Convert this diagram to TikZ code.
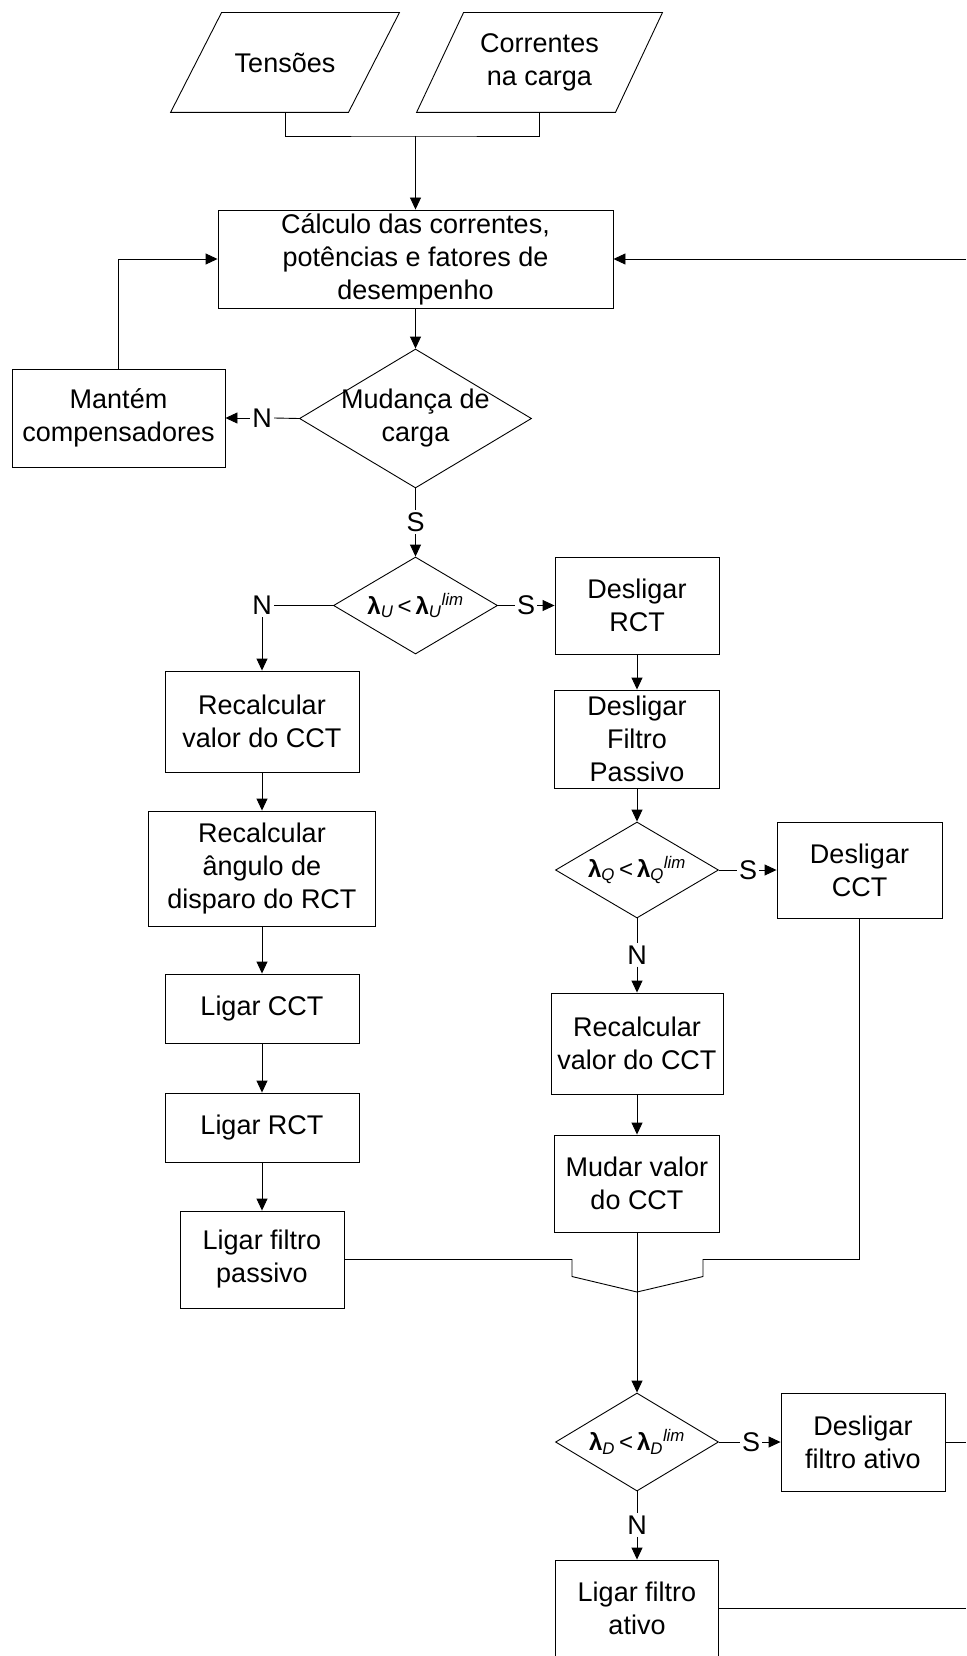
\documentclass[tikz,border=0pt]{standalone}
\usepackage{fontspec}
\setmainfont{Liberation Sans}
\usetikzlibrary{arrows.meta,shapes.geometric}
\tikzset{
  blk/.style = {draw,rectangle,align=center,inner sep=0pt,font=\fontsize{27}{33}\selectfont},
  dec/.style = {draw,diamond,inner sep=0pt},
  dectxt/.style = {inner sep=0pt,font=\fontsize{24}{28}\selectfont},
  inp/.style = {rectangle,align=center,inner sep=0pt,minimum height=99pt,font=\fontsize{27}{33}\selectfont},
  lbl/.style = {inner sep=2pt,font=\fontsize{27}{33}\selectfont}
}
\newcommand{\lamlim}[1]{\textbf{λ}\textsubscript{\textit{#1}}\,<\,\textbf{λ}\textsubscript{\textit{#1}}\textsuperscript{\textit{lim}}}
\newcommand{\slantbox}[2]{% #1 node, #2 half slant
  \draw ([xshift=-#2]#1.south west) -- ([xshift=#2]#1.north west)
     -- ([xshift=#2]#1.north east) -- ([xshift=-#2]#1.south east) -- cycle;}

\begin{document}
\begin{tikzpicture}[x=1pt,y=-1pt,>={Triangle[length=12pt,width=11pt]},line width=0.9pt]
\useasboundingbox (0,0) rectangle (966,1656);

% entradas
\node[inp,minimum width=177pt] (tens) at (285,62.5)   {Tensões};
\node[inp,minimum width=198pt] (corr) at (539.5,62.5) {Correntes\\na carga};
\slantbox{tens}{25.5pt}
\slantbox{corr}{23.5pt}
\coordinate (join) at (415.5,136);

\node[blk,minimum width=395pt,minimum height=98pt] (calc) at (415.5,259) {Cálculo das correntes,\\potências e fatores de\\desempenho};
\node[blk,minimum width=213pt,minimum height=98pt] (mant) at (118.5,418) {Mantém\\compensadores};
\node[dec,minimum width=232pt,minimum height=139pt] (mud) at (415.5,418.5) {};
\node[blk,draw=none] (mudtxt) at (mud) {Mudança de\\carga};

% teste lambda_U
\node[dec,minimum width=164pt,minimum height=97pt] (lamU) at (415.5,605.5) {};
\node[dectxt] (lamUtxt) at (lamU) {\lamlim{U}};
\node[blk,minimum width=164pt,minimum height=97pt] (desRCT) at (637,605.5) {Desligar\\RCT};

% ramo esquerdo
\node[blk,minimum width=194pt,minimum height=101pt] (recL)   at (262,721.5)  {Recalcular\\valor do CCT};
\node[blk,minimum width=227pt,minimum height=115pt] (angL)   at (262,868.5)  {Recalcular\\ângulo de\\disparo do RCT};
\node[blk,minimum width=194pt,minimum height=69pt]  (ligCCT) at (262,1008.5) {Ligar CCT};
\node[blk,minimum width=194pt,minimum height=69pt]  (ligRCT) at (262,1127.5) {Ligar RCT};
\node[blk,minimum width=164pt,minimum height=97pt]  (ligFP)  at (262,1259.5) {Ligar filtro\\passivo};

% ramo direito
\node[blk,minimum width=165pt,minimum height=98pt]  (desFP)  at (637,739)    {Desligar\\Filtro\\Passivo};
\node[dec,minimum width=163pt,minimum height=96pt]  (lamQ)   at (637,870)    {};
\node[dectxt] (lamQtxt) at (lamQ) {\lamlim{Q}};
\node[blk,minimum width=165pt,minimum height=96pt]  (desCCT) at (859.5,870)  {Desligar\\CCT};
\node[blk,minimum width=172pt,minimum height=101pt] (recR)   at (637,1043.5) {Recalcular\\valor do CCT};
\node[blk,minimum width=165pt,minimum height=97pt]  (mudCCT) at (637,1183.5) {Mudar valor\\do CCT};

% teste lambda_D
\node[dec,minimum width=163pt,minimum height=98pt]  (lamD)   at (637,1442)   {};
\node[dectxt] (lamDtxt) at (lamD) {\lamlim{D}};
\node[blk,minimum width=164pt,minimum height=98pt]  (desFA)  at (863,1442)   {Desligar\\filtro ativo};
\node[blk,minimum width=163pt,minimum height=96pt]  (ligFA)  at (637,1608)   {Ligar filtro\\ativo};

% rotulos S / N
\node[lbl] (nMud) at (262,418)   {N};
\node[lbl] (sMud) at (415.5,522) {S};
\node[lbl] (nU)   at (262,605.5) {N};
\node[lbl] (sU)   at (526,605.5) {S};
\node[lbl] (sQ)   at (748,870)   {S};
\node[lbl] (nQ)   at (637,955)   {N};
\node[lbl] (sD)   at (751,1442)  {S};
\node[lbl] (nD)   at (637,1525)  {N};

% pontos de juncao e retorno
\coordinate (mgL) at (572,1259.5);
\coordinate (mgR) at (703,1259.5);
\coordinate (mg)  at (637,1292);
\coordinate (fbTop) at (966,259);
\coordinate (fbD)   at (966,1442);
\coordinate (fbL)   at (966,1608);

\draw (tens.south) |- (join) -| (corr.south);
\draw[->] (join) -- (calc.north);
\draw[->] (calc.south) -- (mud.north);
\draw (mud.west) -- (nMud.east);
\draw[->] (nMud.west) -- (mant.east);
\draw[->] (mant.north) |- (calc.west);
\draw (mud.south) -- (sMud.north);
\draw[->] (sMud.south) -- (lamU.north);

\draw (lamU.west) -- (nU.east);
\draw[->] (nU.south) -- (recL.north);
\draw (lamU.east) -- (sU.west);
\draw[->] (sU.east) -- (desRCT.west);

\draw[->] (recL) -- (angL);
\draw[->] (angL) -- (ligCCT);
\draw[->] (ligCCT) -- (ligRCT);
\draw[->] (ligRCT) -- (ligFP);

\draw[->] (desRCT) -- (desFP);
\draw[->] (desFP) -- (lamQ);
\draw (lamQ.east) -- (sQ.west);
\draw[->] (sQ.east) -- (desCCT.west);
\draw (lamQ.south) -- (nQ.north);
\draw[->] (nQ.south) -- (recR.north);
\draw[->] (recR) -- (mudCCT);

\draw (ligFP.east) -- (mgL) -- ++(0,17) -- (mg);
\draw (desCCT.south) |- (mgR) -- ++(0,17) -- (mg);
\draw (mudCCT.south) -- (mg);
\draw[->] (mg) -- (lamD.north);

\draw (lamD.east) -- (sD.west);
\draw[->] (sD.east) -- (desFA.west);
\draw (lamD.south) -- (nD.north);
\draw[->] (nD.south) -- (ligFA.north);

\draw (desFA.east) -- (fbD);
\draw (ligFA.east) -- (fbL);
\draw[->] (fbTop) -- (calc.east);

\end{tikzpicture}
\end{document}
